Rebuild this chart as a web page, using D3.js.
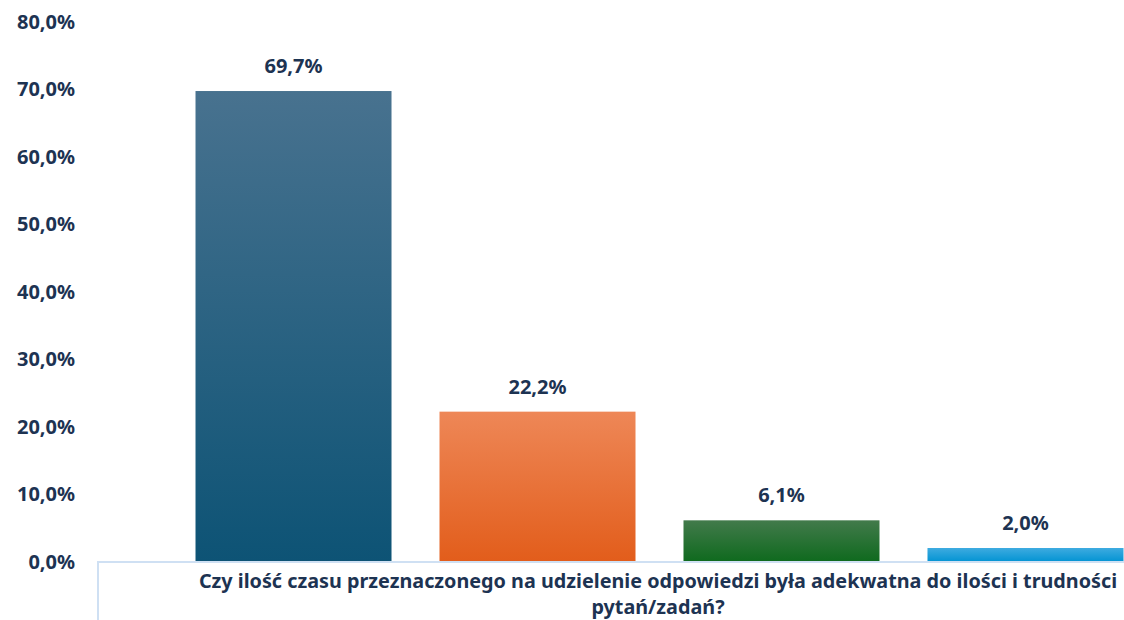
<!DOCTYPE html>
<html>
<head>
<meta charset="utf-8">
<script src="https://cdn.jsdelivr.net/npm/d3@7"></script>
<style>
  html, body { margin: 0; padding: 0; background: #ffffff; }
  svg { display: block; }
  text { font-family: "Noto Sans", "Liberation Sans", sans-serif; font-weight: 700; fill: #1d3352; }
</style>
</head>
<body>
<svg id="chart" width="1124" height="620"></svg>
<script>
const seriesNames = ["s1", "s2", "s3", "s4"];
const values = [69.7, 22.2, 6.1, 2.0];
const valueLabels = ["69,7%", "22,2%", "6,1%", "2,0%"];
const tickValues = [0, 10, 20, 30, 40, 50, 60, 70, 80];
const tickLabels = ["0,0%", "10,0%", "20,0%", "30,0%", "40,0%", "50,0%", "60,0%", "70,0%", "80,0%"];
const categoryLines = ["Czy ilość czasu przeznaczonego na udzielenie odpowiedzi była adekwatna do ilości i trudności", "pytań/zadań?"];
const gradTop = ["#48728f", "#ee8757", "#427a4b", "#3eabe0"];
const gradBottom = ["#0d5375", "#e25d1b", "#0f6a1e", "#0494d3"];

const svg = d3.select("#chart");
const y = d3.scaleLinear().domain([0, 80]).range([561.5, 21.5]);
const x = d3.scaleBand().domain(seriesNames).range([171.5, 1147.5])
  .paddingInner(0.1967).paddingOuter(0.0984);

const defs = svg.append("defs");
seriesNames.forEach((s, i) => {
  const g = defs.append("linearGradient").attr("id", "g" + i)
    .attr("x1", 0).attr("y1", 0).attr("x2", 0).attr("y2", 1);
  g.append("stop").attr("offset", "0%").attr("stop-color", gradTop[i]);
  g.append("stop").attr("offset", "100%").attr("stop-color", gradBottom[i]);
});

// y tick labels
svg.append("g").selectAll("text").data(tickValues).join("text")
  .attr("x", 75).attr("y", d => y(d)).attr("dy", "0.36em")
  .attr("text-anchor", "end").attr("font-size", 20)
  .text((d, i) => tickLabels[i]);

// bars
svg.append("g").selectAll("rect").data(values).join("rect")
  .attr("x", (d, i) => x(seriesNames[i]))
  .attr("width", x.bandwidth())
  .attr("y", d => y(d))
  .attr("height", d => y(0) - y(d))
  .attr("fill", (d, i) => `url(#g${i})`);

// value labels
svg.append("g").selectAll("text").data(values).join("text")
  .attr("x", (d, i) => x(seriesNames[i]) + x.bandwidth() / 2)
  .attr("y", d => y(d) - 18)
  .attr("text-anchor", "middle").attr("font-size", 20)
  .text((d, i) => valueLabels[i]);

// axis lines
svg.append("line").attr("x1", 97).attr("x2", 1124).attr("y1", 562).attr("y2", 562)
  .attr("stroke", "#cfe0f3").attr("stroke-width", 2);
svg.append("line").attr("x1", 98).attr("x2", 98).attr("y1", 561).attr("y2", 620)
  .attr("stroke", "#cfe0f3").attr("stroke-width", 2);

// category label
const cx = 658;
svg.append("g").selectAll("text").data(categoryLines).join("text")
  .attr("x", cx).attr("y", (d, i) => 588 + i * 26)
  .attr("text-anchor", "middle").attr("font-size", 19.8)
  .text(d => d);
</script>
</body>
</html>
